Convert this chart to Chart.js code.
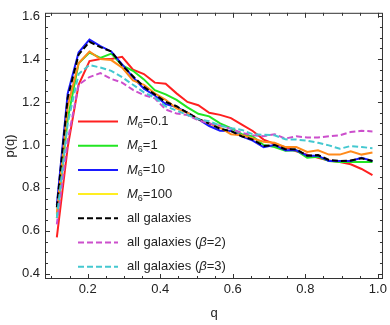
<!DOCTYPE html>
<html>
<head>
<meta charset="utf-8">
<script src="https://cdn.jsdelivr.net/npm/chart.js@4.4.1/dist/chart.umd.min.js"></script>
<style>
  html, body { margin: 0; padding: 0; background: #fff; }
  #wrap { width: 390px; height: 325px; }
</style>
</head>
<body>
<div id="wrap"><canvas id="chart" width="390" height="325"></canvas></div>
<script>
// bin centres in q
const qBins = [0.115, 0.145, 0.175, 0.205, 0.235, 0.265, 0.295, 0.325, 0.355, 0.385,
               0.415, 0.445, 0.475, 0.505, 0.535, 0.565, 0.595, 0.625, 0.655, 0.685,
               0.715, 0.745, 0.775, 0.805, 0.835, 0.865, 0.895, 0.925, 0.955, 0.985];

const xTicks = [0.2, 0.4, 0.6, 0.8, 1.0];
const yTicks = [0.4, 0.6, 0.8, 1.0, 1.2, 1.4, 1.6];

const seriesLabels = ['M6=0.1', 'M6=1', 'M6=10', 'M6=100',
                      'all galaxies', 'all galaxies (β=2)', 'all galaxies (β=3)'];

const pM01 = [0.57, 0.99, 1.28, 1.39, 1.40, 1.40, 1.41, 1.35, 1.33, 1.29,
              1.285, 1.24, 1.20, 1.185, 1.15, 1.14, 1.125, 1.095, 1.065, 1.025,
              1.005, 0.99, 0.97, 0.955, 0.94, 0.928, 0.92, 0.91, 0.888, 0.86];
const pM1 = [0.66, 1.12, 1.38, 1.43, 1.405, 1.425, 1.37, 1.345, 1.305, 1.255,
             1.235, 1.21, 1.175, 1.145, 1.133, 1.10, 1.078, 1.05, 1.04, 1.00,
             0.99, 0.973, 0.975, 0.94, 0.945, 0.925, 0.92, 0.92, 0.92, 0.92];
const pM10 = [0.72, 1.24, 1.43, 1.49, 1.46, 1.435, 1.375, 1.315, 1.262, 1.23,
              1.19, 1.176, 1.15, 1.12, 1.088, 1.066, 1.065, 1.04, 1.02, 0.99,
              1.00, 0.975, 0.975, 0.95, 0.95, 0.925, 0.925, 0.925, 0.94, 0.925];
const pM100 = [0.68, 1.18, 1.38, 1.435, 1.40, 1.395, 1.36, 1.30, 1.28, 1.24,
               1.21, 1.17, 1.15, 1.12, 1.10, 1.08, 1.05, 1.045, 1.03, 1.015,
               1.01, 0.99, 0.99, 0.967, 0.975, 0.955, 0.955, 0.97, 0.955, 0.965];
const pAll = [0.71, 1.22, 1.42, 1.48, 1.455, 1.435, 1.37, 1.32, 1.27, 1.235,
              1.20, 1.18, 1.15, 1.12, 1.10, 1.075, 1.065, 1.04, 1.025, 0.995,
              1.00, 0.98, 0.98, 0.95, 0.953, 0.93, 0.925, 0.928, 0.938, 0.925];
const pBeta2 = [0.63, 1.02, 1.28, 1.316, 1.334, 1.307, 1.29, 1.256, 1.232, 1.217,
                1.165, 1.146, 1.139, 1.115, 1.10, 1.09, 1.075, 1.056, 1.045, 1.04,
                1.05, 1.03, 1.04, 1.035, 1.035, 1.04, 1.045, 1.06, 1.066, 1.063];
const pBeta3 = [0.66, 1.10, 1.33, 1.372, 1.36, 1.345, 1.315, 1.28, 1.245, 1.22,
                1.18, 1.16, 1.14, 1.12, 1.11, 1.09, 1.078, 1.07, 1.05, 1.047,
                1.045, 1.026, 1.025, 1.02, 1.01, 0.998, 0.982, 0.995, 0.99, 0.985];

const seriesValues = [pM01, pM1, pM10, pM100, pAll, pBeta2, pBeta3];
const lineColors = ['#ff2020', '#22e622', '#1a1aff', '#ff8a1a', '#000000', '#cc4fcc', '#44c8d0'];
const legendColors = ['#ff2020', '#22e622', '#1a1aff', '#ffee22', '#000000', '#cc4fcc', '#44c8d0'];
const dashed = [false, false, false, false, true, true, true];

const FONT = "'Liberation Sans', Arial, sans-serif";

const datasets = seriesValues.map((vals, i) => ({
  label: seriesLabels[i],
  data: qBins.map((q, j) => ({ x: q, y: vals[j] })),
  borderColor: lineColors[i],
  borderWidth: 2,
  borderDash: dashed[i] ? [6, 3] : [],
  pointRadius: 0,
  tension: 0,
  fill: false,
  order: seriesValues.length - i
}));

// frame with inward major/minor ticks on all four sides
const frameTicks = {
  id: 'frameTicks',
  afterDatasetsDraw(chart) {
    const { ctx, chartArea: a, scales: { x, y } } = chart;
    ctx.save();
    ctx.strokeStyle = '#333';
    ctx.lineWidth = 1;
    ctx.strokeRect(a.left + 0.5, a.top + 0.5, a.right - a.left - 1, a.bottom - a.top - 1);
    ctx.beginPath();
    for (let k = 2; k <= 20; k++) {
      const px = Math.round(x.getPixelForValue(k * 0.05)) + 0.5;
      const len = k % 4 === 0 ? 5 : 3;
      ctx.moveTo(px, a.bottom); ctx.lineTo(px, a.bottom - len);
      ctx.moveTo(px, a.top); ctx.lineTo(px, a.top + len);
    }
    for (let k = 8; k <= 32; k++) {
      const py = Math.round(y.getPixelForValue(k * 0.05)) + 0.5;
      const len = k % 4 === 0 ? 5 : 3;
      ctx.moveTo(a.left, py); ctx.lineTo(a.left + len, py);
      ctx.moveTo(a.right, py); ctx.lineTo(a.right - len, py);
    }
    ctx.stroke();
    ctx.restore();
  }
};

function labelParts(text) {
  const m = text.match(/^M6(.*)$/);
  if (m) return [{ t: 'M', it: true }, { t: '6', sub: true }, { t: m[1] }];
  const b = text.indexOf('β');
  if (b >= 0) return [{ t: text.slice(0, b) }, { t: 'β', it: true }, { t: text.slice(b + 1) }];
  return [{ t: text }];
}

// legend drawn inside the plot, lower left
const innerLegend = {
  id: 'innerLegend',
  afterDraw(chart) {
    const ctx = chart.ctx;
    const x0 = 78, x1 = 118, tx = 127, y0 = 121.5, dy = 24.2;
    ctx.save();
    chart.data.datasets.forEach((ds, i) => {
      const yy = y0 + i * dy;
      ctx.strokeStyle = legendColors[i];
      ctx.lineWidth = 2;
      ctx.setLineDash(dashed[i] ? [6, 3] : []);
      ctx.beginPath(); ctx.moveTo(x0, yy); ctx.lineTo(x1, yy); ctx.stroke();
      ctx.setLineDash([]);
      ctx.fillStyle = '#222';
      ctx.textBaseline = 'middle';
      let cx = tx;
      labelParts(ds.label).forEach(p => {
        ctx.font = (p.it ? 'italic ' : '') + (p.sub ? '9px ' : '13px ') + FONT;
        ctx.fillText(p.t, cx, p.sub ? yy + 4 : yy);
        cx += ctx.measureText(p.t).width;
      });
    });
    ctx.restore();
  }
};

new Chart(document.getElementById('chart'), {
  type: 'line',
  data: { datasets },
  plugins: [frameTicks, innerLegend],
  options: {
    responsive: false,
    animation: false,
    devicePixelRatio: 1,
    layout: { padding: { top: 5, right: 4, left: 0, bottom: 0 } },
    plugins: { legend: { display: false }, tooltip: { enabled: false } },
    scales: {
      x: {
        type: 'linear',
        min: 0.0824,
        max: 1.014,
        afterFit(s) { s.height = 46; },
        afterBuildTicks(s) { s.ticks = xTicks.map(v => ({ value: v })); },
        grid: { display: false, drawTicks: false },
        border: { display: false },
        ticks: {
          padding: 3,
          color: '#222',
          font: { family: FONT, size: 13 },
          callback: v => v.toFixed(1)
        },
        title: {
          display: true,
          text: 'q',
          color: '#222',
          font: { family: FONT, size: 13 },
          padding: { top: 0, bottom: 4 }
        }
      },
      y: {
        type: 'linear',
        min: 0.376,
        max: 1.615,
        afterFit(s) { s.width = 45; },
        afterBuildTicks(s) { s.ticks = yTicks.map(v => ({ value: v })); },
        grid: { display: false, drawTicks: false },
        border: { display: false },
        ticks: {
          padding: 5,
          color: '#222',
          font: { family: FONT, size: 13 },
          callback: v => v.toFixed(1)
        },
        title: {
          display: true,
          text: 'p(q)',
          color: '#222',
          font: { family: FONT, size: 13 },
          padding: { top: 3, bottom: 0 }
        }
      }
    }
  }
});
</script>
</body>
</html>
